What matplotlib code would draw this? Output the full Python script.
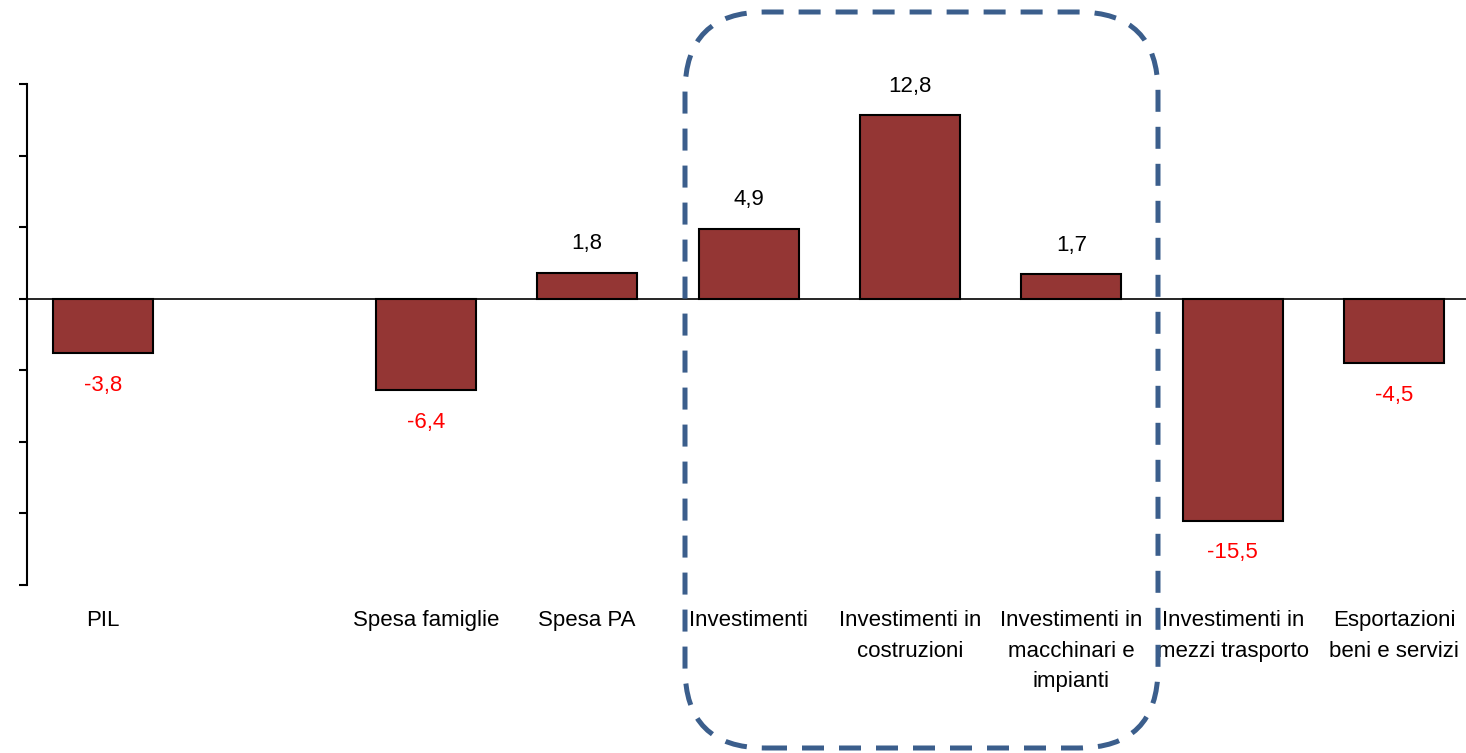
import matplotlib
matplotlib.use("Agg")
import matplotlib.pyplot as plt
from matplotlib.patches import FancyBboxPatch

plt.rcParams['font.family'] = ['Liberation Sans', 'DejaVu Sans']

# categories and values (variazione %), one empty slot after PIL
categories = ["PIL", "", "Spesa famiglie", "Spesa PA", "Investimenti",
              "Investimenti in\ncostruzioni", "Investimenti in\nmacchinari e\nimpianti",
              "Investimenti in\nmezzi trasporto", "Esportazioni\nbeni e servizi"]
values = [-3.8, None, -6.4, 1.8, 4.9, 12.8, 1.7, -15.5, -4.5]
labels = ["-3,8", "", "-6,4", "1,8", "4,9", "12,8", "1,7", "-15,5", "-4,5"]

bar_color = '#943634'

fig = plt.figure(figsize=(14.66, 7.53), dpi=100)
ax = fig.add_axes([27/1466, 1 - 585/753, 1 - 27/1466, (585 - 84)/753])

xs = [i for i, v in enumerate(values) if v is not None]
vs = [v for v in values if v is not None]
ax.bar(xs, vs, width=0.62, color=bar_color, edgecolor='black', linewidth=1.5, zorder=3)

for x, v, lab in zip(range(len(values)), values, labels):
    if v is None:
        continue
    if v >= 0:
        ax.annotate(lab, (x, v), xytext=(0, 21), textcoords='offset points',
                    ha='center', va='center', fontsize=16, color='black')
    else:
        ax.annotate(lab, (x, v), xytext=(0, -23), textcoords='offset points',
                    ha='center', va='center', fontsize=16, color='#FF0000')

ax.axhline(0, color='black', linewidth=1.2, zorder=2)

ax.set_xlim(-0.471, 8.445)
ax.set_ylim(-20, 15)
ax.set_yticks(range(-20, 16, 5))
ax.set_yticklabels([])
ax.tick_params(axis='y', direction='out', length=6, width=1.5)
ax.set_xticks(range(len(categories)))
ax.set_xticklabels(categories, fontsize=16, linespacing=1.6, va='top')
ax.tick_params(axis='x', length=0, pad=18)

for s in ['top', 'right', 'bottom']:
    ax.spines[s].set_visible(False)
ax.spines['left'].set_linewidth(1.5)

# dashed rounded box around the investment categories
box = FancyBboxPatch((6.85, 0.05), 11.58 - 6.85, 7.41 - 0.05,
                     boxstyle="round,pad=0,rounding_size=0.8",
                     transform=fig.dpi_scale_trans, fill=False,
                     edgecolor='#3B5E8C', linewidth=3.6,
                     linestyle=(0, (4.4, 3)), clip_on=False, zorder=5)
fig.add_artist(box)

fig.savefig('out.png', dpi=100)
